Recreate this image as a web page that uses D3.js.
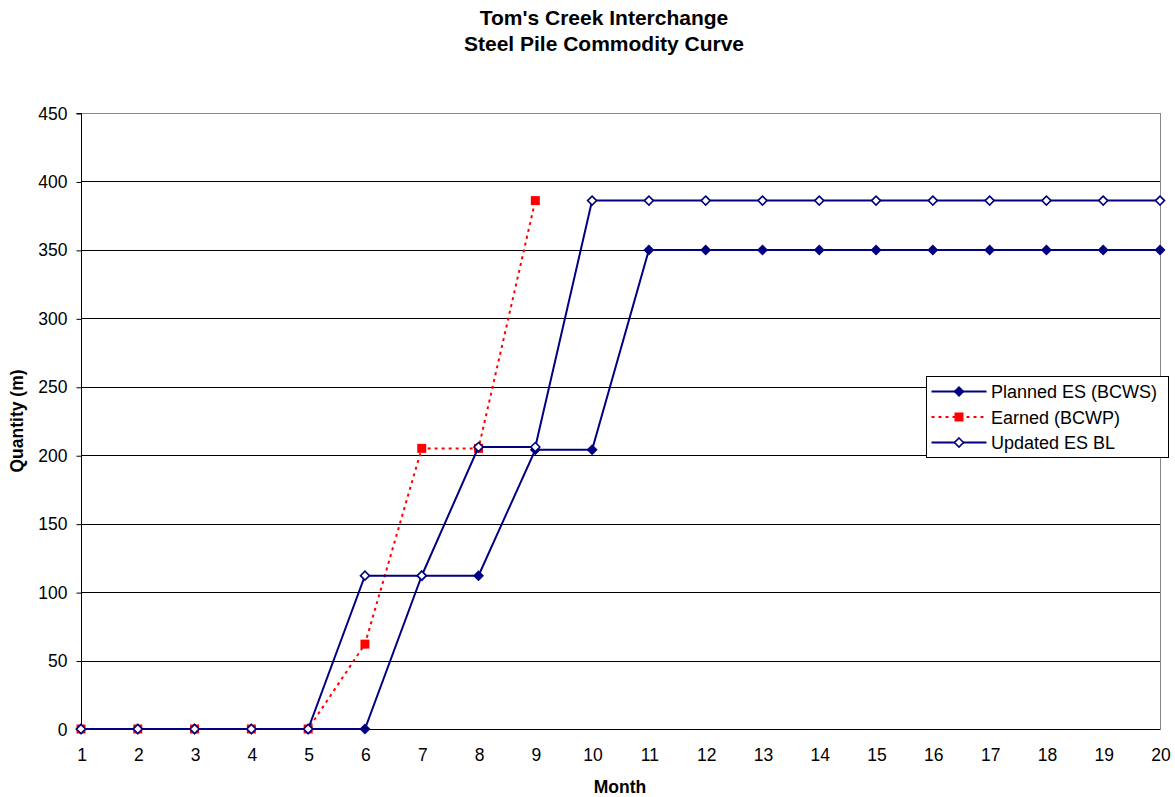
<!DOCTYPE html>
<html><head><meta charset="utf-8">
<script src="https://cdn.jsdelivr.net/npm/d3@7"></script>
<style>body{margin:0;background:#fff}svg{display:block;font-family:"Liberation Sans",Arial,sans-serif}</style>
</head><body>
<svg id="c" width="1175" height="797"></svg>
<script>
const months = [1,2,3,4,5,6,7,8,9,10,11,12,13,14,15,16,17,18,19,20];
const planned = [0,0,0,0,0,0,112,112,204,204,350,350,350,350,350,350,350,350,350,350];
const earned = [0,0,0,0,0,62,205,205,386];
const updated = [0,0,0,0,0,112,112,206,206,386,386,386,386,386,386,386,386,386,386,386];
const yTicks = [0,50,100,150,200,250,300,350,400,450];
const titleLines = ["Tom's Creek Interchange","Steel Pile Commodity Curve"];
const seriesNames = ["Planned ES (BCWS)","Earned (BCWP)","Updated ES BL"];

const svg = d3.select("#c");
const L=81, R=1160, T=113, B=729;
const x = d3.scaleLinear().domain([1,20]).range([L,R]);
const y = d3.scaleLinear().domain([0,450]).range([B,T]);

// title
svg.selectAll("text.title").data(titleLines).join("text")
  .attr("x",604).attr("y",(d,i)=>25+i*26).attr("text-anchor","middle")
  .attr("font-size",21).attr("font-weight","bold").text(d=>d);

// gridlines
svg.append("g").selectAll("line").data(yTicks.filter(d=>d>0)).join("line")
  .attr("x1",L).attr("x2",R).attr("y1",d=>Math.round(y(d))+0.5).attr("y2",d=>Math.round(y(d))+0.5)
  .attr("stroke",d=>d===450?"#888":"#000").attr("stroke-width",1);
// right border
svg.append("line").attr("x1",R+0.5).attr("x2",R+0.5).attr("y1",T).attr("y2",B).attr("stroke","#888");

// axes
const yAxis = d3.axisLeft(y).tickValues(yTicks).tickSize(5).tickPadding(9);
const gy = svg.append("g").attr("transform",`translate(${L+0.5},0.5)`).call(yAxis);
const xAxis = d3.axisBottom(x).tickValues(months).tickSize(0).tickPadding(19).tickFormat(d3.format("d"));
const gx = svg.append("g").attr("transform",`translate(0.5,${B+0.5})`).call(xAxis);
[gx,gy].forEach(g=>{
  g.selectAll("text").attr("font-size",17.5).attr("fill","#000").attr("font-family","Liberation Sans, Arial, sans-serif");
  g.selectAll("line").attr("stroke","#000");
  g.select(".domain").attr("stroke","#000");
});
gx.select(".domain").attr("d",`M${L},0H${R}`);
gy.select(".domain").attr("d",`M-5,${T}H0V${B}`);

svg.append("text").attr("x",620).attr("y",793).attr("text-anchor","middle")
  .attr("font-size",17.5).attr("font-weight","bold").text("Month");
svg.append("text").attr("transform","translate(23,421) rotate(-90)").attr("text-anchor","middle")
  .attr("font-size",17.5).attr("font-weight","bold").text("Quantity (m)");

const line = d3.line().x((d,i)=>x(months[i])).y(d=>y(d));
const navy="#000080", red="#FF0000";
const diamond = (s)=>`M0,${-s}L${s},0L0,${s}L${-s},0Z`;

function drawSeries(data, stroke, dash, marker){
  const g = svg.append("g");
  g.append("path").datum(data).attr("d",line).attr("fill","none")
    .attr("stroke",stroke).attr("stroke-width",2).attr("stroke-dasharray",dash);
  g.selectAll("path.m").data(data).join("path").attr("class","m")
    .attr("transform",(d,i)=>`translate(${x(months[i])},${y(d)})`)
    .each(function(){marker(d3.select(this));});
}
const mPlanned = s=>s.attr("d",diamond(5.5)).attr("fill",navy).attr("stroke","none");
const mEarned = s=>s.attr("d","M-4.5,-4.5H4.5V4.5H-4.5Z").attr("fill",red).attr("stroke","none");
const mUpdated = s=>s.attr("d",diamond(4.5)).attr("fill","#fff").attr("stroke",navy).attr("stroke-width",1.6);

drawSeries(planned, navy, null, mPlanned);
drawSeries(earned, red, "3,4", mEarned);
drawSeries(updated, navy, null, mUpdated);

// legend
const lg = svg.append("g").attr("transform","translate(926.5,376.5)");
lg.append("rect").attr("width",242).attr("height",81).attr("fill","#fff").attr("stroke","#000");
const styles=[[navy,null,mPlanned],[red,"3,4",mEarned],[navy,null,mUpdated]];
seriesNames.forEach((n,i)=>{
  const yy = 15+i*25.5;
  lg.append("line").attr("x1",5).attr("x2",60).attr("y1",yy).attr("y2",yy)
    .attr("stroke",styles[i][0]).attr("stroke-width",2).attr("stroke-dasharray",styles[i][1]);
  styles[i][2](lg.append("path").attr("transform",`translate(32.5,${yy})`));
  lg.append("text").attr("x",64.5).attr("y",yy+6.5).attr("font-size",18).text(n);
});
</script>
</body></html>
